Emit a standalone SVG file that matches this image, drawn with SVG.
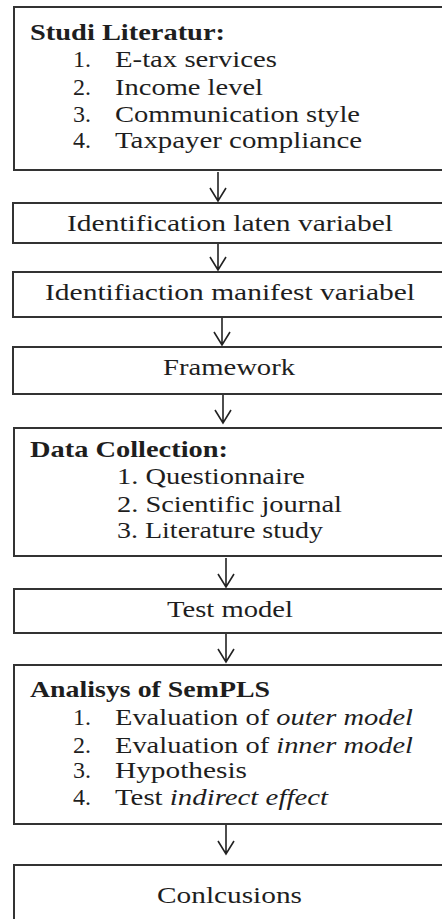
<svg xmlns="http://www.w3.org/2000/svg" width="442" height="919" viewBox="0 0 442 919">
<style>
.box{fill:#fff;stroke:#333;stroke-width:2}
text{font-family:"Liberation Serif","Times New Roman",serif;font-size:24px;fill:#1e1e1e}
.b{font-weight:bold}
.i{font-style:italic}
.c{stroke:#222;stroke-width:1.6;fill:none}
</style>
<rect width="442" height="919" fill="#fff"/>
<g id="n1" font-family="Liberation Serif">
<rect class="box" x="14" y="7" width="440" height="163"/>
<text class="b" x="30" y="40" textLength="195" lengthAdjust="spacingAndGlyphs">Studi Literatur:</text>
<text x="73" y="67">1.</text><text x="115" y="67" textLength="162" lengthAdjust="spacingAndGlyphs">E-tax services</text>
<text x="73" y="95">2.</text><text x="115" y="95" textLength="148" lengthAdjust="spacingAndGlyphs">Income level</text>
<text x="73" y="122">3.</text><text x="115" y="122" textLength="245" lengthAdjust="spacingAndGlyphs">Communication style</text>
<text x="73" y="148">4.</text><text x="115" y="148" textLength="247" lengthAdjust="spacingAndGlyphs">Taxpayer compliance</text>
</g>
<g id="n2" font-family="Liberation Serif">
<rect class="box" x="13" y="203" width="440" height="40"/>
<text x="67" y="231" textLength="326" lengthAdjust="spacingAndGlyphs">Identification laten variabel</text>
</g>
<g id="n3" font-family="Liberation Serif">
<rect class="box" x="13" y="272" width="440" height="45"/>
<text x="45" y="300" textLength="370" lengthAdjust="spacingAndGlyphs">Identifiaction manifest variabel</text>
</g>
<g id="n4" font-family="Liberation Serif">
<rect class="box" x="13" y="347" width="440" height="47"/>
<text x="163" y="375" textLength="132" lengthAdjust="spacingAndGlyphs">Framework</text>
</g>
<g id="n5" font-family="Liberation Serif">
<rect class="box" x="14" y="428" width="440" height="128"/>
<text class="b" x="30" y="457" textLength="198" lengthAdjust="spacingAndGlyphs">Data Collection:</text>
<text x="117" y="484" textLength="188" lengthAdjust="spacingAndGlyphs">1. Questionnaire</text>
<text x="117" y="512" textLength="225" lengthAdjust="spacingAndGlyphs">2. Scientific journal</text>
<text x="117" y="538" textLength="206" lengthAdjust="spacingAndGlyphs">3. Literature study</text>
</g>
<g id="n6" font-family="Liberation Serif">
<rect class="box" x="14" y="589" width="440" height="44"/>
<text x="167" y="617" textLength="126" lengthAdjust="spacingAndGlyphs">Test model</text>
</g>
<g id="n7" font-family="Liberation Serif">
<rect class="box" x="14" y="665" width="440" height="159"/>
<text class="b" x="30" y="697" textLength="240" lengthAdjust="spacingAndGlyphs">Analisys of SemPLS</text>
<text x="73" y="725">1.</text><text x="115" y="725" textLength="298" lengthAdjust="spacingAndGlyphs">Evaluation of <tspan class="i">outer model</tspan></text>
<text x="73" y="753">2.</text><text x="115" y="753" textLength="298" lengthAdjust="spacingAndGlyphs">Evaluation of <tspan class="i">inner model</tspan></text>
<text x="73" y="778">3.</text><text x="115" y="778" textLength="132" lengthAdjust="spacingAndGlyphs">Hypothesis</text>
<text x="73" y="805">4.</text><text x="115" y="805" textLength="213" lengthAdjust="spacingAndGlyphs">Test <tspan class="i">indirect effect</tspan></text>
</g>
<g id="n8" font-family="Liberation Serif">
<rect class="box" x="14" y="865" width="440" height="80"/>
<text x="157" y="903" textLength="145" lengthAdjust="spacingAndGlyphs">Conlcusions</text>
</g>
<g id="connectors">
<path class="c" d="M218 172V201M210 188L218 201L226 188"/>
<path class="c" d="M218 244V270M210 257L218 270L226 257"/>
<path class="c" d="M222 318V345M214 332L222 345L230 332"/>
<path class="c" d="M223 395V423M215 410L223 423L231 410"/>
<path class="c" d="M226 558V587M218 574L226 587L234 574"/>
<path class="c" d="M226 634V662M218 649L226 662L234 649"/>
<path class="c" d="M226 825V854M218 841L226 854L234 841"/>
</g>
</svg>
